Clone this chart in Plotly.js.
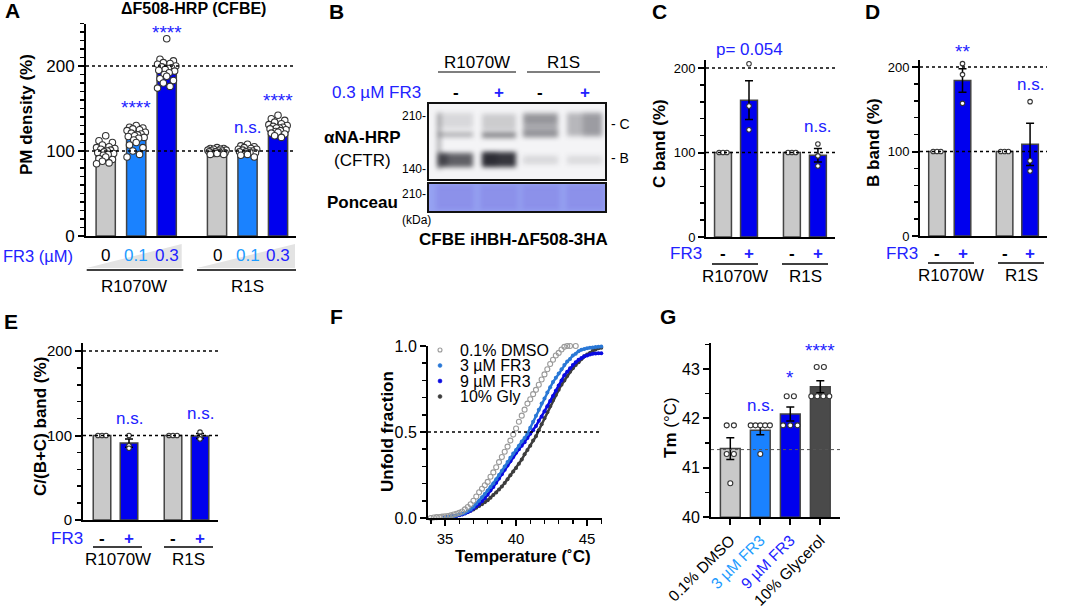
<!DOCTYPE html>
<html><head><meta charset="utf-8">
<script src="https://cdn.plot.ly/plotly-3.0.1.min.js"></script>
<style>html,body{margin:0;padding:0;background:#fff}#chart{width:1079px;height:609px}</style>
</head><body><div id="chart"></div>
<script>
// ================= DATA =================
// Panel A : PM density (%)
const aGroups = ['R1070W', 'R1S'];
const aDoseLabels = ['0', '0.1', '0.3'];
const aMeans = [100, 117.6, 196.5, 99.5, 99.5, 127.4];
const aPts1 = [118,112,110,107,105,104,103,102,101,100,99,98,97,96,95,93,91,90,88,86,85];
const aPts2 = [130,128,127,126,125,124,122,121,120,119,118,117,116,115,113,110,107,104,100,96,93];
const aPts3 = [232,208,206,204,203,202,200,199,198,197,196,195,194,192,190,188,185,183,180,176,174];
const aPts4 = [104,103,103,102,102,101,101,100,100,100,99,99,98,98,97,97,96,96];
const aPts5 = [108,106,105,104,103,102,102,101,100,100,99,99,98,98,97,96,95,93];
const aPts6 = [142,138,136,134,132,131,130,129,128,127,127,126,125,124,123,122,121,120,118,116];
const aSig = ['', '****', '****', '', 'n.s.', '****'];

// Panel C : C band (%)
const cMeans = [100, 162, 100, 96.7];
const cSem = [null, 23, null, 8];
const cPts = [[100,100,100],[205,155,127],[100,100,100],[110,96,84]];
// Panel D : B band (%)
const dMeans = [100, 184, 100, 108.5];
const dSem = [null, 14, null, 25];
const dPts = [[100,100,100],[204,191,157],[100,100,100],[159,89,77]];
// Panel E : C/(B+C) band (%)
const eMeans = [100, 91, 100, 99.5];
const eSem = [null, 5, null, 3];
const ePts = [[100,100,100],[100,88,85],[100,100,100],[104,99,96]];
const bandGroups = ['R1070W', 'R1S'];
const fr3Signs = ['-', '+', '-', '+'];

// Panel F : unfolding curves
const fTemp = [34.0,34.2,34.4,34.6,34.8,35.0,35.2,35.4,35.6,35.8,36.0,36.2,36.4,36.6,36.8,37.0,37.2,37.4,37.6,37.8,
  38.0,38.2,38.4,38.6,38.8,39.0,39.2,39.4,39.6,39.8,40.0,40.2,40.4,40.6,40.8,41.0,41.2,41.4,41.6,41.8,
  42.0,42.2,42.4,42.6,42.8,43.0,43.2,43.4,43.6,43.8,44.0,44.2,44.4,44.6,44.8,45.0,45.2,45.4,45.6,45.8,46.0];
const fDMSO = [0.0,0.003,0.005,0.006,0.008,0.010,0.012,0.015,0.02,0.025,0.03,0.038,0.05,0.064,0.08,0.10,0.125,0.15,0.17,0.19,
  0.21,0.24,0.265,0.295,0.325,0.355,0.385,0.415,0.45,0.485,0.52,0.56,0.595,0.63,0.665,0.69,0.72,0.745,0.775,0.805,
  0.835,0.865,0.895,0.92,0.945,0.96,0.98,0.995,1.0,1.0,null,1.0,null,null,null,null,null,null,null,null,null];
const fFR3_3 = [null,null,null,null,null,0.005,0.006,0.008,0.01,0.015,0.02,0.025,0.03,0.04,0.05,0.065,0.085,0.10,0.12,0.14,
  0.16,0.18,0.20,0.225,0.25,0.275,0.30,0.325,0.35,0.375,0.395,0.42,0.445,0.465,0.49,0.525,0.56,0.595,0.63,0.665,
  0.695,0.73,0.76,0.79,0.815,0.84,0.865,0.89,0.91,0.925,0.945,0.955,0.97,0.978,0.983,0.987,0.99,0.992,0.994,0.995,0.997];
const fFR3_9 = [null,null,null,null,null,0.004,0.006,0.008,0.01,0.012,0.016,0.02,0.026,0.033,0.042,0.055,0.068,0.082,0.097,0.115,
  0.135,0.16,0.18,0.205,0.23,0.255,0.28,0.305,0.33,0.355,0.38,0.40,0.42,0.44,0.465,0.49,0.51,0.535,0.565,0.59,
  0.62,0.65,0.68,0.71,0.74,0.77,0.80,0.83,0.85,0.87,0.89,0.905,0.92,0.93,0.94,0.945,0.95,0.955,0.957,0.958,0.958];
const fGly = [null,null,null,null,null,0.004,0.006,0.008,0.01,0.013,0.017,0.022,0.028,0.035,0.042,0.05,0.06,0.07,0.08,0.092,
  0.103,0.118,0.133,0.148,0.165,0.183,0.203,0.225,0.248,0.27,0.29,0.315,0.34,0.37,0.395,0.42,0.45,0.475,0.51,0.545,
  0.58,0.615,0.65,0.685,0.715,0.745,0.775,0.80,0.825,0.85,0.87,0.89,0.905,0.925,0.94,0.95,0.96,0.972,0.98,0.987,0.99];
const fNames = ['0.1% DMSO', '3 µM FR3', '9 µM FR3', '10% Gly'];

// Panel G : Tm (°C)
const gLabels = ['0.1% DMSO', '3 µM FR3', '9 µM FR3', '10% Glycerol'];
const gMeans = [41.39, 41.76, 42.09, 42.64];
const gSem = [0.22, 0.09, 0.14, 0.12];
const gPts = [[41.86,41.86,41.28,41.28,40.69],[41.86,41.86,41.86,41.86,41.86,41.28],
              [42.45,42.45,41.86,41.86,41.86],[43.04,43.04,42.45,42.45,42.45,42.45]];
const gSig = ['', 'n.s.', '*', '****'];
const gRef = 41.37;

// ================= STYLE / LAYOUT HELPERS =================
const W = 1079, H = 609;
const FONT = 'Liberation Sans, Arial, sans-serif';
const BLUE = '#2222ff', LBLUE = '#1e9bff';
const C_GREY = '#c9c9c9', C_LBLUE = '#1a82ff', C_BLUE = '#0000ee', C_DGREY = '#4a4a4a';
const px = x => x / W, py = y => 1 - y / H;

function yAxis(top, bot, range, dtick, minor, fs, anchor, fmt) {
  return {domain: [py(bot), py(top)], range, anchor, tickmode: 'linear', tick0: range[0], dtick,
    tickformat: fmt || '', ticks: 'outside', ticklen: 6, tickwidth: 2, tickcolor: '#000',
    showline: true, linewidth: 2, linecolor: '#000', showgrid: false, zeroline: false,
    tickfont: {family: FONT, size: fs, color: '#000'},
    minor: {tickmode: 'linear', tick0: range[0], dtick: minor, ticks: 'outside', ticklen: 4, tickwidth: 1.5, tickcolor: '#000', showgrid: false},
    fixedrange: true};
}
function xAxis(l, r, range, anchor) {
  return {domain: [px(l), px(r)], range, anchor, showline: true, linewidth: 2, linecolor: '#000',
    ticks: '', showticklabels: false, showgrid: false, zeroline: false, fixedrange: true};
}
function xRange(l, r, first, unit) { return [-(first - l) / unit, (r - first) / unit]; }

const annotations = [], shapes = [];
function txt(x, y, text, size, color, opt) {
  annotations.push(Object.assign({xref: 'paper', yref: 'paper', x: px(x), y: py(y), text,
    showarrow: false, xanchor: 'center', yanchor: 'middle',
    font: {family: FONT, size, color: color || '#000'}}, opt || {}));
}
function txtAx(xref, xv, y, text, size, color, opt) {
  annotations.push(Object.assign({xref, yref: 'paper', x: xv, y: py(y), text,
    showarrow: false, xanchor: 'center', yanchor: 'middle',
    font: {family: FONT, size, color: color || '#000'}}, opt || {}));
}
function hline(x0, x1, y, w, color) {
  shapes.push({type: 'line', xref: 'paper', yref: 'paper', x0: px(x0), x1: px(x1), y0: py(y), y1: py(y),
    line: {color: color || '#000', width: w || 1.5}});
}
function refLine(xd, yr, v, color, w) {
  shapes.push({type: 'line', xref: xd + ' domain', yref: yr, x0: 0, x1: 1, y0: v, y1: v,
    line: {color: color || '#000', width: w || 1.5, dash: 'dot'}});
}
function poly(pts, fill) {
  const d = pts.map((p, i) => (i ? 'L' : 'M') + px(p[0]) + ',' + py(p[1])).join(' ') + ' Z';
  shapes.push({type: 'path', xref: 'paper', yref: 'paper', path: d, fillcolor: fill, line: {width: 0}, layer: 'below'});
}
function rect(x0, y0, x1, y1, w) {
  shapes.push({type: 'rect', xref: 'paper', yref: 'paper', x0: px(x0), x1: px(x1), y0: py(y1), y1: py(y0),
    line: {color: '#111', width: w || 2}});
}
function spread(vals, stepFn) {
  const counts = {}, seen = {};
  vals.forEach(v => counts[v] = (counts[v] || 0) + 1);
  return vals.map(v => {
    const n = counts[v]; seen[v] = seen[v] === undefined ? 0 : seen[v] + 1;
    return (seen[v] - (n - 1) / 2) * stepFn(n);
  });
}
const swarmPat = [0, -0.22, 0.22, -0.11, 0.11, -0.3, 0.3, -0.16, 0.16, 0.05, -0.05, -0.26, 0.26, 0.08, -0.08];

const traces = [];
const ptMarker = (size) => ({size, color: '#fff', line: {color: '#333', width: 1.1}});

// ---------- Panel A ----------
const aPos = [0, 1, 2, 3.65, 4.65, 5.65];
const aColors = [C_GREY, C_LBLUE, C_BLUE, C_GREY, C_LBLUE, C_BLUE];
traces.push({type: 'bar', x: aPos, y: aMeans, width: 0.63, xaxis: 'x', yaxis: 'y',
  marker: {color: aColors, line: {color: '#444', width: 1.5}}, hoverinfo: 'skip'});
const aAll = [aPts1, aPts2, aPts3, aPts4, aPts5, aPts6];
const aX = [], aY = [];
aAll.forEach((pts, i) => pts.forEach((v, k) => { aX.push(aPos[i] + swarmPat[k % swarmPat.length]); aY.push(v); }));
traces.push({type: 'scatter', mode: 'markers', x: aX, y: aY, xaxis: 'x', yaxis: 'y', cliponaxis: false,
  marker: ptMarker(6.5), hoverinfo: 'skip'});

// ---------- Panels C, D, E ----------
const cdPos = [0, 1, 2.65, 3.65];
const ePos = [0, 1, 2.63, 3.63];
const bColors = [C_GREY, C_BLUE, C_GREY, C_BLUE];
function bandPanel(pos, means, sem, pts, xa, ya) {
  traces.push({type: 'bar', x: pos, y: means, width: 0.65, xaxis: xa, yaxis: ya,
    marker: {color: bColors, line: {color: '#444', width: 1.5}},
    error_y: {type: 'data', array: sem, visible: true, color: '#000', thickness: 1.5, width: 4}, hoverinfo: 'skip'});
  const X = [], Y = [];
  pts.forEach((p, i) => { const off = spread(p, () => 0.15); p.forEach((v, k) => { X.push(pos[i] + off[k]); Y.push(v); }); });
  traces.push({type: 'scatter', mode: 'markers', x: X, y: Y, xaxis: xa, yaxis: ya, cliponaxis: false,
    marker: ptMarker(4.5), hoverinfo: 'skip'});
}
bandPanel(cdPos, cMeans, cSem, cPts, 'x2', 'y2');
bandPanel(cdPos, dMeans, dSem, dPts, 'x3', 'y3');
bandPanel(ePos, eMeans, eSem, ePts, 'x4', 'y4');

// ---------- Panel F ----------
const fCols = ['#9a9a9a', '#2a78d6', '#0a0ae0', '#3d3d3d'];
const fSeries = [fDMSO, fFR3_3, fFR3_9, fGly];
[3, 2, 1].forEach(i => {
  traces.push({type: 'scatter', mode: 'lines+markers', x: fTemp, y: fSeries[i], xaxis: 'x5', yaxis: 'y5',
    line: {color: fCols[i], width: 2.5}, marker: {size: 4, color: fCols[i]}, cliponaxis: false, hoverinfo: 'skip'});
});
traces.push({type: 'scatter', mode: 'markers', x: fTemp, y: fDMSO, xaxis: 'x5', yaxis: 'y5', cliponaxis: false,
  marker: {symbol: 'circle-open', size: 5, color: fCols[0], line: {width: 1.1}}, hoverinfo: 'skip'});

// ---------- Panel G ----------
const gPos = [0, 1, 2, 3];
const G_BASE = 40;
traces.push({type: 'bar', x: gPos, y: gMeans.map(v => v - G_BASE), base: G_BASE, width: 0.66, xaxis: 'x6', yaxis: 'y6',
  marker: {color: [C_GREY, C_LBLUE, C_BLUE, C_DGREY], line: {color: '#444', width: 1.5}},
  error_y: {type: 'data', array: gSem, visible: true, color: '#000', thickness: 1.5, width: 4}, hoverinfo: 'skip'});
(function () {
  const X = [], Y = [];
  gPts.forEach((p, i) => { const off = spread(p, n => Math.min(0.24, 0.8 / n)); p.forEach((v, k) => { X.push(gPos[i] + off[k]); Y.push(v); }); });
  traces.push({type: 'scatter', mode: 'markers', x: X, y: Y, xaxis: 'x6', yaxis: 'y6', cliponaxis: false,
    marker: ptMarker(5), hoverinfo: 'skip'});
})();

// ================= AXES =================
const layout = {
  width: W, height: H, margin: {l: 0, r: 0, t: 0, b: 0}, paper_bgcolor: '#fff', plot_bgcolor: 'rgba(0,0,0,0)',
  showlegend: false, font: {family: FONT, color: '#000'}, bargap: 0,
  xaxis: xAxis(86, 296, xRange(86, 296, 105.7, 30.5), 'y'),
  yaxis: yAxis(23.5, 236, [0, 250], 100, 10, 17, 'x'),
  xaxis2: xAxis(706, 835, xRange(706, 835, 723, 26), 'y2'),
  yaxis2: yAxis(60, 237, [0, 209.5], 100, 20, 13, 'x2'),
  xaxis3: xAxis(920, 1047, xRange(920, 1047, 937, 25.5), 'y3'),
  yaxis3: yAxis(60, 236, [0, 208.3], 100, 20, 13, 'x3'),
  xaxis4: xAxis(83, 218, xRange(83, 218, 102, 27), 'y4'),
  yaxis4: yAxis(343, 520, [0, 209.5], 100, 20, 15, 'x4'),
  xaxis5: Object.assign(xAxis(428, 602, [33.8, 46.05], 'y5'), {showticklabels: true, ticks: 'outside', ticklen: 6, tickwidth: 2,
    tickcolor: '#000', tickmode: 'linear', tick0: 35, dtick: 5, tickfont: {family: FONT, size: 15, color: '#000'},
    minor: {tickmode: 'linear', tick0: 35, dtick: 1, ticks: 'outside', ticklen: 4, tickwidth: 1.5, tickcolor: '#000'}}),
  yaxis5: yAxis(346, 518, [0, 1], 0.5, 0.1, 16, 'x5', '.1f'),
  xaxis6: Object.assign(xAxis(711, 840, xRange(711, 840, 730.3, 30), 'y6'), {showticklabels: true, ticks: 'outside',
    ticklen: 6, tickwidth: 2, tickcolor: '#000', tickmode: 'array', tickvals: gPos, tickangle: -45,
    ticktext: gLabels.map((t, i) => i === 1 ? '<span style="color:' + LBLUE + '">' + t + '</span>' : i === 2 ? '<span style="color:' + BLUE + '">' + t + '</span>' : t),
    tickfont: {family: FONT, size: 15.5, color: '#000'}}),
  yaxis6: yAxis(343.3, 517.3, [40, 43.52], 1, 0.5, 16, 'x6'),
};

// ================= REFERENCE LINES =================
refLine('x', 'y', 100); refLine('x', 'y', 200);
refLine('x2', 'y2', 100); refLine('x2', 'y2', 200);
refLine('x3', 'y3', 100); refLine('x3', 'y3', 200);
refLine('x4', 'y4', 100); refLine('x4', 'y4', 200);
refLine('x5', 'y5', 0.5);
refLine('x6', 'y6', gRef, '#555', 1);

// ================= TEXT: PANEL A =================
txt(12, 11, '<b>A</b>', 21);
txt(193, 9, '<b>ΔF508-HRP (CFBE)</b>', 16);
txt(26, 115, '<b>PM density (%)</b>', 17, '#000', {textangle: -90});
aSig.forEach((s, i) => { if (s) txtAx('x', aPos[i], [0, 107, 32, 0, 128, 100][i], s, s === 'n.s.' ? 17 : 19, BLUE); });
txt(1, 256, 'FR3 (µM)', 16.5, BLUE, {xanchor: 'left'});
const doseCols = ['#000', LBLUE, BLUE];
aPos.forEach((p, i) => txtAx('x', p, 256, aDoseLabels[i % 3], 17, doseCols[i % 3]));
poly([[86.7, 268], [181.7, 268], [181.7, 244]], '#e3e3e3');
poly([[197, 268], [295, 268], [295, 244]], '#e3e3e3');
hline(86.7, 183.3, 270); hline(197, 296, 270);
txt(134, 286, aGroups[0], 17); txt(248, 286, aGroups[1], 17);

// ================= PANEL B (blot) =================
txt(336, 12, '<b>B</b>', 21);
txt(477, 63, 'R1070W', 17); hline(438, 516, 72, 1.2);
txt(563, 63, 'R1S', 17); hline(527, 600, 72, 1.2);
txt(423, 92, '0.3 µM FR3', 17, BLUE, {xanchor: 'right'});
[455.5, 498.5, 540, 584.5].forEach((x, i) => txt(x, 92, '<b>' + fr3Signs[i] + '</b>', 17, i % 2 ? BLUE : '#000'));
txt(428, 116, '210-', 12, '#000', {xanchor: 'right'});
txt(428, 169, '140-', 12, '#000', {xanchor: 'right'});
txt(428, 194, '210-', 12, '#000', {xanchor: 'right'});
txt(416, 220, '(kDa)', 12);
txt(362, 138, '<b>αNA-HRP</b>', 17);
txt(362, 160, '(CFTR)', 17);
txt(362, 202, '<b>Ponceau</b>', 17);
txt(609, 124, '- C', 14, '#000', {xanchor: 'left'});
txt(609, 158, '- B', 14, '#000', {xanchor: 'left'});
txt(513, 240, '<b>CFBE iHBH-ΔF508-3HA</b>', 17);
rect(428, 103, 606, 180, 2);
rect(428, 183, 606, 212, 2);

function blotImage() {
  const w = 178, h = 77, s = 3, c = document.createElement('canvas');
  c.width = w * s; c.height = h * s;
  const g = c.getContext('2d');
  g.fillStyle = '#f4f4f6'; g.fillRect(0, 0, c.width, c.height);
  g.filter = 'blur(' + (2.4 * s) + 'px)';
  const bands = [
    [10, 10, 35, 15, 0.12], [10, 29, 35, 5, 0.30], [10, 50, 35, 14, 0.66], [9, 10, 4, 56, 0.30], [11, 51, 9, 11, 0.35],
    [54, 11, 34, 16, 0.18], [54, 29, 34, 6, 0.48], [54, 49, 34, 15, 0.85], [55, 50, 14, 12, 0.25],
    [95, 10, 35, 24, 0.32], [96, 12, 33, 8, 0.15], [95, 28, 35, 6, 0.18], [95, 53, 35, 8, 0.12],
    [139, 10, 35, 23, 0.27], [155, 10, 19, 23, 0.16], [139, 53, 35, 8, 0.11]];
  bands.forEach(b => { g.fillStyle = 'rgba(20,20,28,' + b[4] + ')'; g.fillRect(b[0] * s, b[1] * s, b[2] * s, b[3] * s); });
  return c.toDataURL('image/png');
}
function ponceauImage() {
  const w = 178, h = 29, s = 3, c = document.createElement('canvas');
  c.width = w * s; c.height = h * s;
  const g = c.getContext('2d');
  g.fillStyle = 'rgb(150,162,242)'; g.fillRect(0, 0, c.width, c.height);
  g.filter = 'blur(' + (2.5 * s) + 'px)';
  [[8, 38], [52, 38], [94, 38], [138, 38]].forEach(l => { g.fillStyle = 'rgba(115,100,215,0.28)'; g.fillRect(l[0] * s, 2 * s, l[1] * s, 25 * s); });
  return c.toDataURL('image/png');
}
layout.images = [
  {source: blotImage(), xref: 'paper', yref: 'paper', x: px(428), y: py(103), sizex: 178 / W, sizey: 77 / H,
    xanchor: 'left', yanchor: 'top', sizing: 'stretch', layer: 'below'},
  {source: ponceauImage(), xref: 'paper', yref: 'paper', x: px(428), y: py(183), sizex: 178 / W, sizey: 29 / H,
    xanchor: 'left', yanchor: 'top', sizing: 'stretch', layer: 'below'}];

// ================= PANELS C, D, E text =================
function bandText(letter, lx, ly, ytitle, tx, ty, xa, pos, sig, sigY, fr3x, rowY, lines, lineY, labY) {
  txt(lx, ly, '<b>' + letter + '</b>', 21);
  txt(tx, ty, '<b>' + ytitle + '</b>', 17, '#000', {textangle: -90});
  sig.forEach((s, i) => { if (s) txtAx(xa, pos[i], sigY[i], s, s === '**' ? 19 : 17, BLUE); });
  txt(fr3x, rowY, 'FR3', 17, BLUE);
  pos.forEach((p, i) => txtAx(xa, p, rowY, '<b>' + fr3Signs[i] + '</b>', 17, i % 2 ? BLUE : '#000'));
  hline(lines[0], lines[1], lineY); hline(lines[2], lines[3], lineY);
  txt((lines[0] + lines[1]) / 2, labY, bandGroups[0], 17);
  txt((lines[2] + lines[3]) / 2, labY, bandGroups[1], 17);
}
bandText('C', 659, 12, 'C band (%)', 660, 144, 'x2', cdPos, ['', 'p= 0.054', '', 'n.s.'], [0, 49, 0, 127], 686, 254, [712, 758, 782, 828], 264, 276);
bandText('D', 872, 12, 'B band (%)', 873, 143, 'x3', cdPos, ['', '**', '', 'n.s.'], [0, 51, 0, 84], 902, 253, [928, 974, 998, 1044], 263, 275);
bandText('E', 11, 321, 'C/(B+C) band (%)', 40, 427, 'x4', ePos, ['', 'n.s.', '', 'n.s.'], [0, 418, 0, 414], 67, 538, [93, 142, 164, 213], 547, 559);

// ================= PANEL F text + legend =================
txt(336, 316, '<b>F</b>', 21);
txt(387, 432, '<b>Unfold fraction</b>', 17, '#000', {textangle: -90});
txt(523, 556, '<b>Temperature (˚C)</b>', 17);
[350, 365.5, 381, 396.5].forEach((y, i) => {
  shapes.push({type: 'circle', xref: 'paper', yref: 'paper', x0: px(438), x1: px(442), y0: py(y + 2), y1: py(y - 2),
    fillcolor: i === 0 ? 'rgba(0,0,0,0)' : fCols[i], line: {color: fCols[i], width: i === 0 ? 1.1 : 0.5}});
  txt(458, y, fNames[i], 16, '#000', {xanchor: 'left'});
});

// ================= PANEL G text =================
txt(668, 316, '<b>G</b>', 21);
txt(670, 428, '<b>Tm</b> (°C)', 17, '#000', {textangle: -90});
gSig.forEach((s, i) => { if (s) txtAx('x6', gPos[i], [0, 405, 377, 350][i], s, s === 'n.s.' ? 17 : 19, BLUE); });

layout.annotations = annotations;
layout.shapes = shapes;
Plotly.newPlot('chart', traces, layout, {displayModeBar: false, staticPlot: true});
</script>
</body></html>
